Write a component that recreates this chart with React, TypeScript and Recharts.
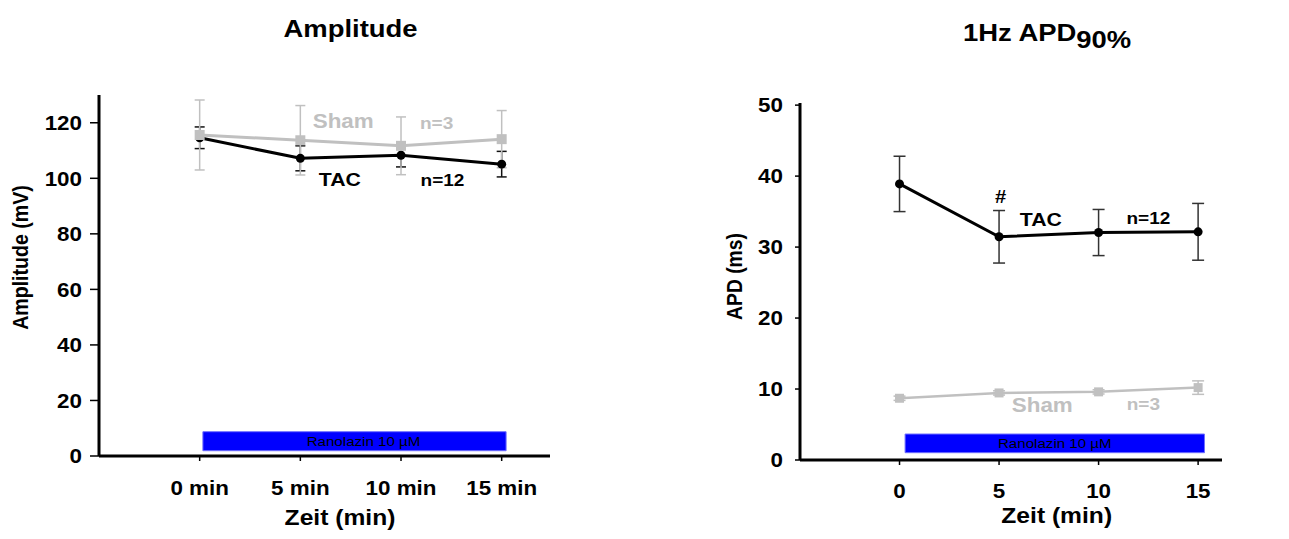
import React from 'react';
import {
  LineChart,
  Line,
  XAxis,
  YAxis,
  ErrorBar,
  ReferenceArea,
  ReferenceDot,
} from 'recharts';

// ---------- data ----------
const times = [0, 5, 10, 15];

const ampTac = [114.6, 107.2, 108.3, 105.1];
const ampTacErr = [3.9, 4.5, 4.2, 4.6];
const ampSham = [115.6, 113.7, 111.7, 114.1];
const ampShamErr = [12.6, 12.5, 10.4, 10.3];

const apdTac = [38.9, 31.45, 32.05, 32.15];
const apdTacErr = [3.9, 3.7, 3.25, 4.0];
const apdSham = [8.7, 9.45, 9.6, 10.2];
const apdShamErr = [0.3, 0.3, 0.3, 0.95];

const ampTicks = [0, 20, 40, 60, 80, 100, 120];
const apdTicks = [0, 10, 20, 30, 40, 50];
const timeTicks = [0, 5, 10, 15];

const drugLabel = 'Ranolazin 10 µM';
const ampDrug = { x1: 0.16, x2: 15.22, y1: 1.9, y2: 8.75 };
const apdDrug = { x1: 0.28, x2: 15.32, y1: 1.03, y2: 3.66 };

const ampNotes = [
  { x: 7.13, y: 120.6, text: 'Sham', color: '#c0c0c0', size: 20 },
  { x: 11.77, y: 120.0, text: 'n=3', color: '#c0c0c0', size: 17 },
  { x: 6.96, y: 99.8, text: 'TAC', color: '#000000', size: 19 },
  { x: 12.06, y: 99.4, text: 'n=12', color: '#000000', size: 17 },
];
const apdNotes = [
  { x: 5.08, y: 37.1, text: '#', color: '#000000', size: 18 },
  { x: 7.1, y: 33.9, text: 'TAC', color: '#000000', size: 19 },
  { x: 12.5, y: 34.1, text: 'n=12', color: '#000000', size: 17 },
  { x: 7.17, y: 7.75, text: 'Sham', color: '#c0c0c0', size: 20 },
  { x: 12.25, y: 7.93, text: 'n=3', color: '#c0c0c0', size: 17 },
];

const ampData = times.map((t, i) => ({
  t,
  tac: ampTac[i],
  tacErr: ampTacErr[i],
  sham: ampSham[i],
  shamErr: ampShamErr[i],
}));
const apdData = times.map((t, i) => ({
  t,
  tac: apdTac[i],
  tacErr: apdTacErr[i],
  sham: apdSham[i],
  shamErr: apdShamErr[i],
}));

// ---------- styling helpers ----------
const FONT = '"Liberation Sans", Arial, Helvetica, sans-serif';
const SX = 1.12;
const GREY = '#c0c0c0';

const YTick = (props: any) => {
  const { x, y, payload } = props;
  return (
    <g transform={`translate(${x},${y})`}>
      <text
        transform={`scale(${SX},1)`}
        textAnchor="end"
        dy="0.36em"
        fontSize={20}
        fontWeight="bold"
        fontFamily={FONT}
        fill="#000"
      >
        {payload.value}
      </text>
    </g>
  );
};

const makeXTick = (suffix: string, dy: number) => (props: any) => {
  const { x, y, payload } = props;
  return (
    <g transform={`translate(${x},${y})`}>
      <text
        transform={`scale(${SX},1)`}
        textAnchor="middle"
        dy={dy}
        fontSize={20}
        fontWeight="bold"
        fontFamily={FONT}
        fill="#000"
      >
        {`${payload.value}${suffix}`}
      </text>
    </g>
  );
};

const NoteLabel = (text: string, color: string, size: number, dx = 0, bold = true) => (p: any) => {
  const vb = p.viewBox || {};
  const cx = (vb.x ?? 0) + (vb.width ?? 0) / 2 + dx;
  const cy = (vb.y ?? 0) + (vb.height ?? 0) / 2;
  return (
    <g transform={`translate(${cx},${cy})`}>
      <text
        transform={`scale(${SX},1)`}
        textAnchor="middle"
        dy="0.36em"
        fontSize={size}
        fontWeight={bold ? 'bold' : 'normal'}
        fontFamily={FONT}
        fill={color}
      >
        {text}
      </text>
    </g>
  );
};

const squareDot = (size: number, color: string) => (props: any) => {
  const { cx, cy, index } = props;
  if (cx == null || cy == null) return <g key={`e-${index}`} />;
  return (
    <rect
      key={`sq-${index}`}
      x={cx - size / 2}
      y={cy - size / 2}
      width={size}
      height={size}
      fill={color}
    />
  );
};

const axisLine = { stroke: '#000', strokeWidth: 3 };
const tickLine = { stroke: '#000', strokeWidth: 1.5 };

export default function App() {
  return (
    <div
      style={{
        position: 'absolute',
        left: 0,
        top: 0,
        width: 1289,
        height: 539,
        background: '#fff',
        overflow: 'hidden',
      }}
    >
      {/* Left chart: Amplitude */}
      <div style={{ position: 'absolute', left: 0, top: 0 }}>
        <LineChart
          width={640}
          height={539}
          data={ampData}
          margin={{ top: 95, left: 39, right: 90, bottom: 43 }}
        >
          <XAxis
            dataKey="t"
            type="number"
            domain={[-5, 17.4]}
            allowDataOverflow
            ticks={timeTicks}
            height={40}
            axisLine={axisLine}
            tickLine={tickLine}
            tickSize={5}
            tickMargin={0}
            tick={makeXTick(' min', 34)}
            interval={0}
          />
          <YAxis
            type="number"
            domain={[0, 130]}
            allowDataOverflow
            ticks={ampTicks}
            width={60}
            axisLine={axisLine}
            tickLine={tickLine}
            tickSize={9}
            tickMargin={8}
            tick={YTick}
            interval={0}
          />
          <ReferenceArea
            x1={ampDrug.x1}
            x2={ampDrug.x2}
            y1={ampDrug.y1}
            y2={ampDrug.y2}
            fill="#0000ff"
            fillOpacity={1}
            stroke="#6f6fff"
            strokeWidth={1}
            label={{ content: NoteLabel(drugLabel, '#000', 13.5, 9, false) }}
          />
          <Line
            dataKey="tac"
            stroke="#000"
            strokeWidth={3}
            dot={{ r: 4.5, fill: '#000', stroke: '#000', strokeWidth: 0 }}
            activeDot={false}
            isAnimationActive={false}
          >
            <ErrorBar dataKey="tacErr" direction="y" width={5} stroke="#111" strokeWidth={1.5} />
          </Line>
          <Line
            dataKey="sham"
            stroke={GREY}
            strokeWidth={3}
            dot={squareDot(10, GREY)}
            activeDot={false}
            isAnimationActive={false}
          >
            <ErrorBar dataKey="shamErr" direction="y" width={5} stroke={GREY} strokeWidth={1.5} />
          </Line>
          {ampNotes.map((n, i) => (
            <ReferenceDot
              key={`an-${i}`}
              x={n.x}
              y={n.y}
              r={0}
              fill="none"
              stroke="none"
              label={{ content: NoteLabel(n.text, n.color, n.size) }}
            />
          ))}
        </LineChart>
      </div>

      {/* Right chart: APD90 */}
      <div style={{ position: 'absolute', left: 645, top: 0 }}>
        <LineChart
          width={644}
          height={539}
          data={apdData}
          margin={{ top: 103, left: 95, right: 67, bottom: 39 }}
        >
          <XAxis
            dataKey="t"
            type="number"
            domain={[-5, 16.2]}
            allowDataOverflow
            ticks={timeTicks}
            height={40}
            axisLine={axisLine}
            tickLine={tickLine}
            tickSize={5}
            tickMargin={0}
            tick={makeXTick('', 33)}
            interval={0}
          />
          <YAxis
            type="number"
            domain={[0, 50.3]}
            allowDataOverflow
            ticks={apdTicks}
            width={60}
            axisLine={axisLine}
            tickLine={tickLine}
            tickSize={5}
            tickMargin={12}
            tick={YTick}
            interval={0}
          />
          <ReferenceArea
            x1={apdDrug.x1}
            x2={apdDrug.x2}
            y1={apdDrug.y1}
            y2={apdDrug.y2}
            fill="#0000ff"
            fillOpacity={1}
            stroke="#6f6fff"
            strokeWidth={1}
            label={{ content: NoteLabel(drugLabel, '#000', 13.5, 0, false) }}
          />
          <Line
            dataKey="sham"
            stroke={GREY}
            strokeWidth={2.5}
            dot={squareDot(9, GREY)}
            activeDot={false}
            isAnimationActive={false}
          >
            <ErrorBar dataKey="shamErr" direction="y" width={6} stroke={GREY} strokeWidth={1.5} />
          </Line>
          <Line
            dataKey="tac"
            stroke="#000"
            strokeWidth={3}
            dot={{ r: 4.5, fill: '#000', stroke: '#000', strokeWidth: 0 }}
            activeDot={false}
            isAnimationActive={false}
          >
            <ErrorBar dataKey="tacErr" direction="y" width={6} stroke="#333" strokeWidth={1.5} />
          </Line>
          {apdNotes.map((n, i) => (
            <ReferenceDot
              key={`pn-${i}`}
              x={n.x}
              y={n.y}
              r={0}
              fill="none"
              stroke="none"
              label={{ content: NoteLabel(n.text, n.color, n.size) }}
            />
          ))}
        </LineChart>
      </div>

      {/* Titles and axis titles */}
      <svg
        width={1289}
        height={539}
        style={{ position: 'absolute', left: 0, top: 0, pointerEvents: 'none' }}
      >
        <g fontFamily={FONT} fontWeight="bold" fill="#000">
          <g transform={`translate(350.5,36.7) scale(${SX},1)`}>
            <text textAnchor="middle" fontSize={24.5}>Amplitude</text>
          </g>
          <g transform={`translate(963,40.7) scale(${SX},1)`}>
            <text textAnchor="start" fontSize={24.5}>
              1Hz APD<tspan dy={7.6}>90%</tspan>
            </text>
          </g>
          <g transform={`translate(340,525) scale(${SX},1)`}>
            <text textAnchor="middle" fontSize={22}>Zeit (min)</text>
          </g>
          <g transform={`translate(1056.7,523.3) scale(${SX},1)`}>
            <text textAnchor="middle" fontSize={22}>Zeit (min)</text>
          </g>
          <g transform={`translate(28,257.5) scale(${SX},1) rotate(-90)`}>
            <text textAnchor="middle" fontSize={19.6}>Amplitude (mV)</text>
          </g>
          <g transform={`translate(741.5,276.5) scale(${SX},1) rotate(-90)`}>
            <text textAnchor="middle" fontSize={19.3}>APD (ms)</text>
          </g>
        </g>
      </svg>
    </div>
  );
}
